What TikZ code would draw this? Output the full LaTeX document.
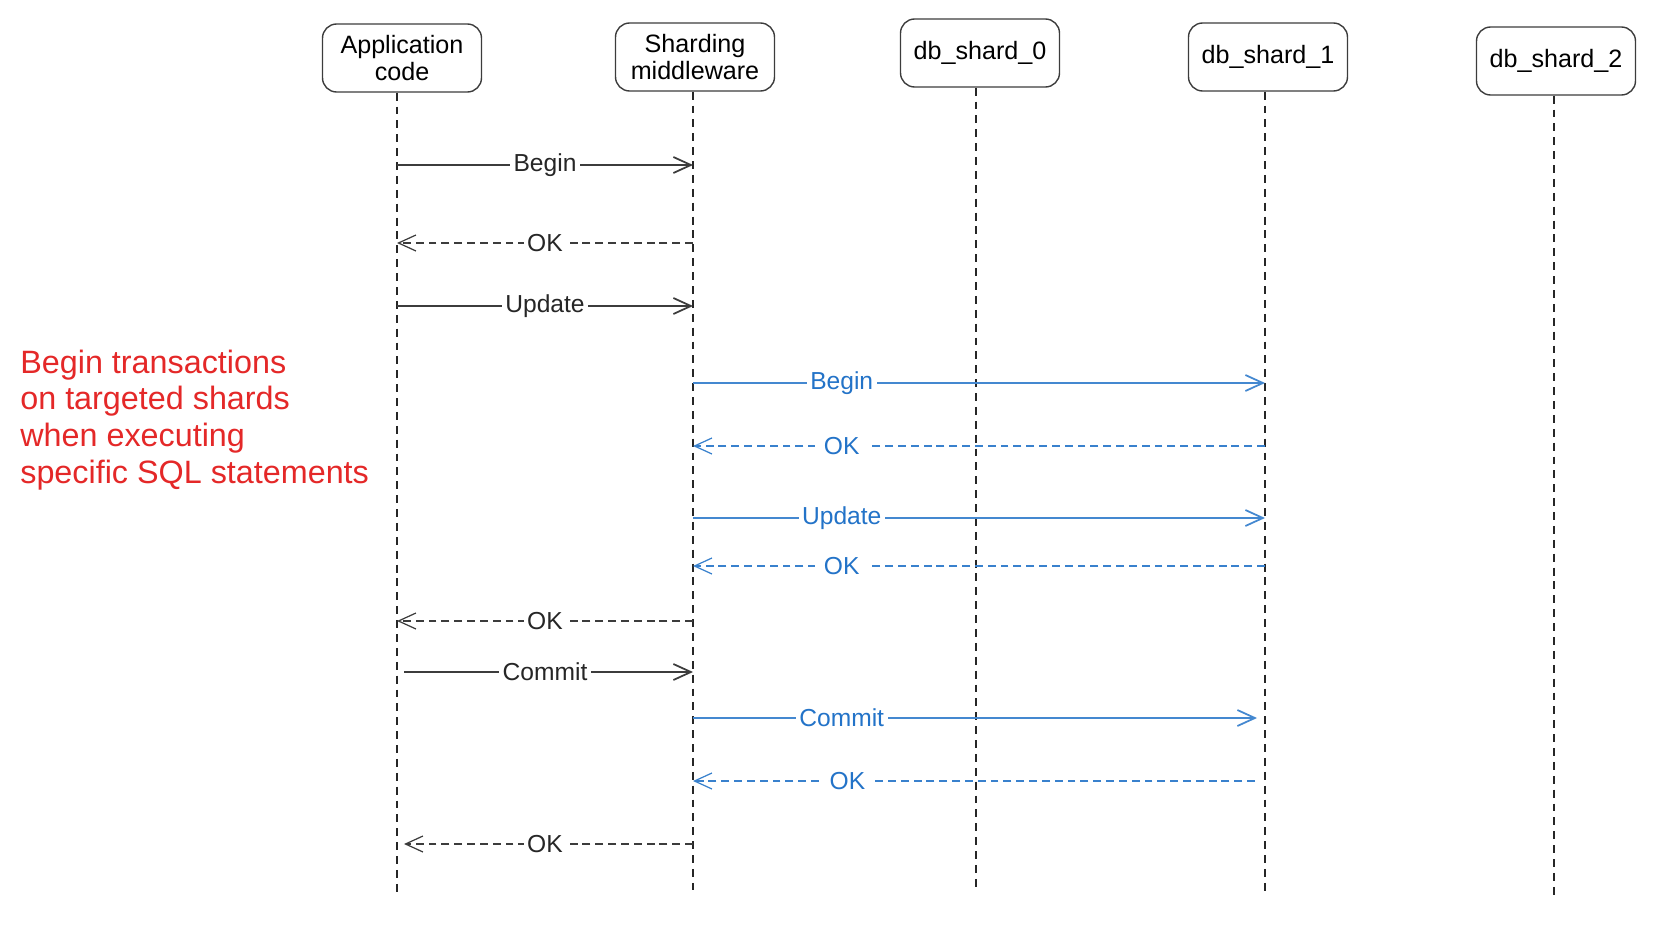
\documentclass[tikz,border=0pt]{standalone}
\usepackage{fontspec}
\setmainfont{Liberation Sans}
\usetikzlibrary{arrows.meta}

\definecolor{linegray}{RGB}{60,60,60}
\definecolor{msgblue}{RGB}{35,115,200}
\definecolor{notered}{RGB}{228,40,40}

\tikzset{
  head/.style={draw=linegray, line width=0.8pt, rounded corners=8pt,
    minimum width=3.18cm, minimum height=1.36cm, align=center,
    inner sep=1pt, font=\fontsize{14.3}{15.8}\selectfont},
  lifeline/.style={draw=black!85, line width=0.6pt, dash pattern=on 4.5pt off 3.4pt},
  call/.style={draw=linegray, line width=1pt,
    -{Straight Barb[length=3.5mm,width=3.2mm]}},
  reply/.style={call, line width=0.7pt, dash pattern=on 4.5pt off 2.8pt},
  lbl/.style={fill=white, text=black!85, inner sep=2pt,
    font=\fontsize{14}{16}\selectfont},
  bcall/.style={call, draw=msgblue!85},
  breply/.style={reply, draw=msgblue!90},
  blbl/.style={lbl, text=msgblue, pos=0.26},
  bok/.style={blbl, inner xsep=5pt, pos=0.74}
}

\begin{document}
\begin{tikzpicture}[x=0.02cm, y=-0.02cm]
  \useasboundingbox (0,0) rectangle (1667,950);

  % Participants at the top
  \node[head] (app) at (402,58) {Application\\code};
  \node[head] (mid) at (695,57) {Sharding\\middleware};
  \node[head] (s0) at (980,53) {db\_shard\_0};
  \node[head] (s1) at (1268,57) {db\_shard\_1};
  \node[head] (s2) at (1556,61) {db\_shard\_2};

  % Dashed lifelines, each ending in a named coordinate
  \foreach \h/\x/\e in {app/397/892, mid/693/890, s0/976/888, s1/1265/893, s2/1554/898}
    \draw[lifeline] (\x,0 |- \h.south) -- (\x,\e) coordinate (\h-life);

  % Application <-> middleware
  \draw[call] (app-life |- 0,165) -- node[lbl] {Begin} (mid-life |- 0,165);
  \draw[reply] (mid-life |- 0,243) -- node[lbl] {OK} (app-life |- 0,243);
  \draw[call] (app-life |- 0,306) -- node[lbl] {Update} (mid-life |- 0,306);

  % Middleware <-> db_shard_1
  \draw[bcall] (mid-life |- 0,383) -- node[blbl] {Begin} (s1-life |- 0,383);
  \draw[breply] (s1-life |- 0,446) -- node[bok] {OK} (mid-life |- 0,446);
  \draw[bcall] (mid-life |- 0,518) -- node[blbl] {Update} (s1-life |- 0,518);
  \draw[breply] (s1-life |- 0,566) -- node[bok] {OK} (mid-life |- 0,566);

  \draw[reply] (mid-life |- 0,621) -- node[lbl] {OK} (app-life |- 0,621);
  \draw[call, shorten <=0.14cm] (app-life |- 0,672) -- node[lbl] {Commit} (mid-life |- 0,672);

  \draw[bcall, shorten >=0.16cm] (mid-life |- 0,718) -- node[blbl] {Commit} (s1-life |- 0,718);
  \draw[breply, shorten <=0.2cm] (s1-life |- 0,781) -- node[bok, pos=0.73] {OK} (mid-life |- 0,781);

  \draw[reply, shorten >=0.14cm] (mid-life |- 0,844) -- node[lbl] {OK} (app-life |- 0,844);

  % Note on the left
  \node[anchor=west, align=left, text=notered, inner sep=0pt,
    font=\fontsize{18.4}{21}\selectfont] (note) at (20,420)
    {Begin transactions\\on targeted shards\\when executing\\specific SQL statements};
\end{tikzpicture}
\end{document}
